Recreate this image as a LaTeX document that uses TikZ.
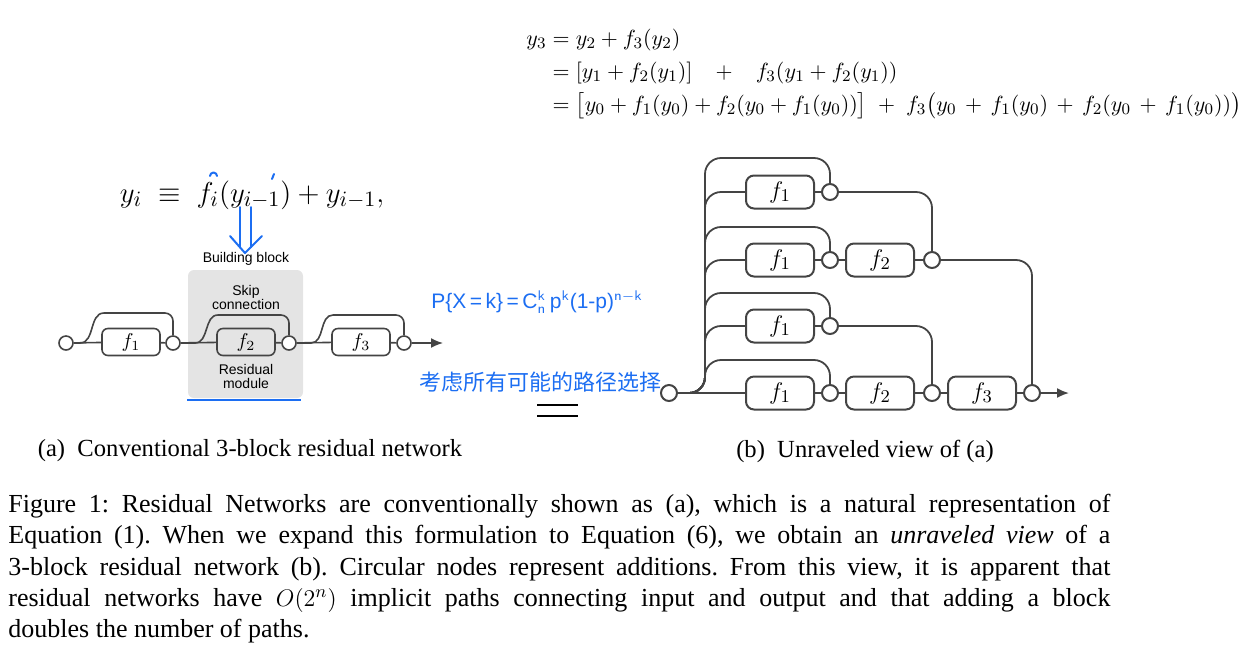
\documentclass[tikz,border=0pt]{standalone}
\usepackage{amsmath}
\usepackage[no-math]{fontspec}
\setmainfont{Liberation Serif}
\setsansfont{Liberation Sans}
\newfontfamily\cjkfont{Noto Sans CJK SC}
\usetikzlibrary{arrows.meta,positioning,calc}
\definecolor{rnLine}{HTML}{444444}
\definecolor{rnBlock}{HTML}{E4E4E4}
\definecolor{rnPen}{HTML}{1C6EF2}

\tikzset{
  wire/.style={draw=rnLine,line width=0.9pt},
  lbox/.style={draw=rnLine,line width=0.8pt,rounded corners=3pt,minimum width=29pt,minimum height=13.5pt,inner sep=0pt,font=\fontsize{10}{10}\selectfont},
  rbox/.style={draw=rnLine,line width=1pt,rounded corners=4pt,minimum width=34pt,minimum height=16.5pt,inner sep=0pt,font=\fontsize{12.5}{12.5}\selectfont},
  lsum/.style={circle,draw=rnLine,line width=0.8pt,fill=white,minimum size=7pt,inner sep=0pt},
  rsum/.style={circle,draw=rnLine,line width=1pt,fill=white,minimum size=8pt,inner sep=0pt},
  blocktext/.style={font=\sffamily\fontsize{7}{7}\selectfont,align=center},
  pen/.style={draw=rnPen,line width=1pt,line cap=round,line join=round}
}

\begin{document}
\begin{tikzpicture}[x=0.5pt,y=-0.5pt]
  \useasboundingbox (0,0) rectangle (1252,645);

  % equations
  \node[anchor=west,inner sep=0pt,font=\fontsize{11}{13.6}\selectfont] (eqn) at (526,73)
    {$\begin{aligned}
      y_3 &= y_2 + f_3(y_2)\\
          &= [y_1 + f_2(y_1)] \;\;\;+\;\;\; f_3(y_1 + f_2(y_1))\\
          &= \big[y_0 + f_1(y_0) + f_2(y_0 + f_1(y_0))\big] \;+\; f_3\big(y_0 \,+\, f_1(y_0) \,+\, f_2(y_0 \,+\, f_1(y_0))\big)
    \end{aligned}$};
  \node[font=\fontsize{15}{17}\selectfont] (yeq) at (252,195)
    {$y_i \;\equiv\; f_i(y_{i-1}) + y_{i-1},$};

  % handwritten notes
  \draw[pen] (210,176) arc[start angle=180,end angle=360,radius=3.5];
  \draw[pen] (274,174) -- (272,179);
  \draw[pen] (240,207) -- (240,247);
  \draw[pen] (251,207) -- (251,247);
  \draw[pen] (230,236) -- (245,253) -- (262,236);
  \node[rnPen,font=\sffamily\fontsize{10.5}{11}\selectfont] (binom) at (537,302)
    {P\{X\,=\,k\}\,=\,C$^{\mathsf{k}}_{\mathsf{n}}$\,p$^{\mathsf{k}}$(1-p)$^{\mathsf{n-k}}$};
  \node[rnPen,font=\cjkfont\fontsize{11}{11}\selectfont] (pathtxt) at (540,382) {考虑所有可能的路径选择};
  \draw[line width=1pt] (537,405) -- (578,405);
  \draw[line width=1pt] (537,416) -- (578,416);

  % (a) conventional view
  \fill[rnBlock,rounded corners=3pt] (188,270) rectangle (303,398);
  \draw[rnPen,line width=1.2pt] (187,400) -- (301,400);
  \node[blocktext] (bblock) at (246,259) {Building block};
  \node[blocktext] (skiptxt) at (246,297) {Skip\\connection};
  \node[blocktext] (restxt) at (246,376) {Residual\\module};

  \node[lsum] (lin) at (66,343) {};
  \node[lbox,fill=white] (lf1) at (131,342) {$f_1$};
  \node[lsum] (lc1) at (173,343) {};
  \node[lbox] (lf2) at (246,342) {$f_2$};
  \node[lsum] (lc2) at (289,343) {};
  \node[lbox,fill=white] (lf3) at (361,342) {$f_3$};
  \node[lsum] (lc3) at (404,343) {};
  \coordinate (lout) at (443,343);

  \draw[wire,line width=0.8pt] (lin) -- (lf1) -- (lc1) -- (lf2) -- (lc2) -- (lf3) -- (lc3);
  \draw[wire,line width=0.8pt,-{Latex[length=6pt,width=5pt]}] (lc3) -- (lout);
  \draw[wire,line width=0.8pt] (lin.east) -- (80,343) to[out=0,in=180] (104,313)
    [rounded corners=4pt] -- (173,313) -- (lc1.north);
  \draw[wire,line width=0.8pt] (lc1.east) -- (195,343) to[out=0,in=180] (218,315)
    [rounded corners=4pt] -- (289,315) -- (lc2.north);
  \draw[wire,line width=0.8pt] (lc2.east) -- (311,343) to[out=0,in=180] (333,315)
    [rounded corners=4pt] -- (404,315) -- (lc3.north);

  % (b) unraveled view
  \node[rsum] (rin) at (669,393) {};
  \node[rbox] (r1f1) at (780,192) {$f_1$};
  \node[rsum] (r1c) at (830,192) {};
  \node[rbox] (r2f1) at (780,260) {$f_1$};
  \node[rsum] (r2c1) at (830,260) {};
  \node[rbox] (r2f2) at (880,260) {$f_2$};
  \node[rsum] (r2c2) at (932,260) {};
  \node[rbox] (r3f1) at (780,326) {$f_1$};
  \node[rsum] (r3c) at (830,326) {};
  \node[rbox] (r4f1) at (780,393) {$f_1$};
  \node[rsum] (r4c1) at (830,393) {};
  \node[rbox] (r4f2) at (880,393) {$f_2$};
  \node[rsum] (r4c2) at (932,393) {};
  \node[rbox] (r4f3) at (982,393) {$f_3$};
  \node[rsum] (r4c3) at (1032,393) {};
  \coordinate (rout) at (1069,393);

  \begin{scope}[wire,rounded corners=8pt]
    \draw (rin.east) -| (705,158) -| (r1c.north);
    \draw (rin.east) -| (705,192) -- (r1f1.west);
    \draw (rin.east) -| (705,227) -| (r2c1.north);
    \draw (rin.east) -| (705,260) -- (r2f1.west);
    \draw (rin.east) -| (705,293) -| (r3c.north);
    \draw (rin.east) -| (705,326) -- (r3f1.west);
    \draw (rin.east) -| (705,360) -| (r4c1.north);
    \draw (r1c.east) -| (r2c2.north);
    \draw (r2c2.east) -| (r4c3.north);
    \draw (r3c.east) -| (r4c2.north);
  \end{scope}
  \draw[wire] (rin) -- (r4f1) -- (r4c1) -- (r4f2) -- (r4c2) -- (r4f3) -- (r4c3);
  \draw[wire] (r1f1) -- (r1c);
  \draw[wire] (r2f1) -- (r2c1) -- (r2f2) -- (r2c2);
  \draw[wire] (r3f1) -- (r3c);
  \draw[wire,-{Latex[length=6pt,width=5pt]}] (r4c3) -- (rout);

  % captions
  \node[font=\fontsize{12.3}{14}\selectfont] (capa) at (250,451) {(a)\enspace Conventional 3-block residual network};
  \node[font=\fontsize{12.3}{14}\selectfont] (capb) at (865,451) {(b)\enspace Unraveled view of (a)};
  \node[anchor=north west,inner sep=0pt,text width=551pt,align=justify,font=\fontsize{13}{15.6}\selectfont] (caption) at (8,494)
    {\noindent\frenchspacing Figure 1: Residual Networks are conventionally shown as (a), which is a natural representation of\linebreak
     Equation (1). When we expand this formulation to Equation (6), we obtain an \emph{unraveled view} of a\linebreak
     3-block residual network (b). Circular nodes represent additions. From this view, it is apparent that\linebreak
     residual networks have $O(2^n)$ implicit paths connecting input and output and that adding a block\linebreak
     doubles the number of paths.};
\end{tikzpicture}
\end{document}
